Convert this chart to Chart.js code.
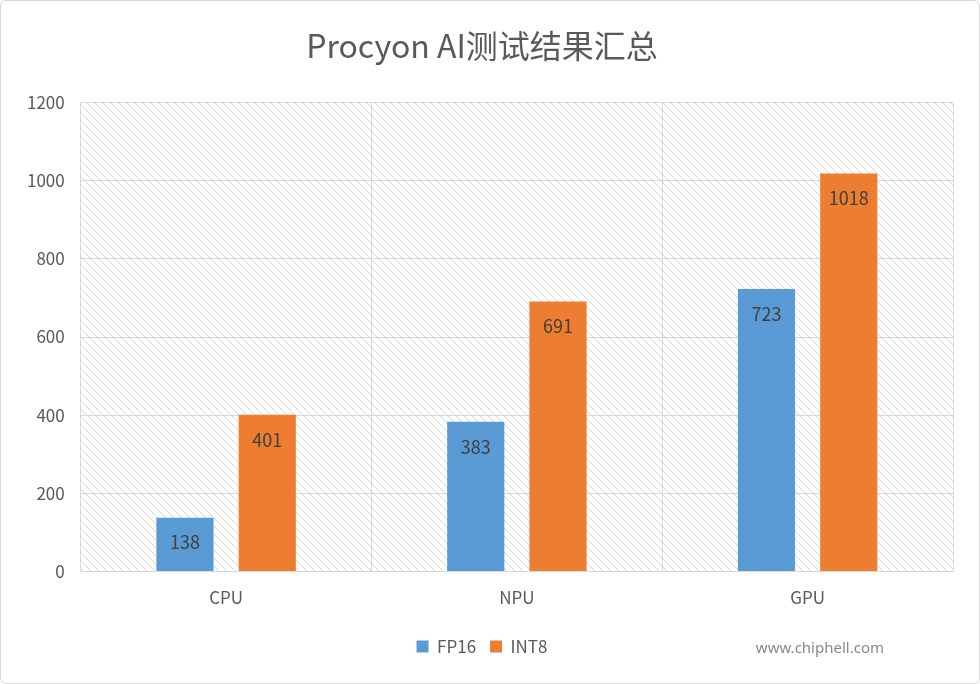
<!DOCTYPE html>
<html lang="zh">
<head>
<meta charset="UTF-8">
<title>Procyon AI测试结果汇总</title>
<script src="https://cdn.jsdelivr.net/npm/chart.js"></script>
<style>
  body { margin: 0; background: #fff; }
  #wrap { position: relative; width: 978px; height: 682px; border: 1px solid #d9d9d9; border-radius: 6px; }
  #mark { position: absolute; right: 95px; bottom: 26px; font: 15px 'Noto Sans', sans-serif; color: #888; }
</style>
</head>
<body>
<div id="wrap">
  <canvas id="chart" width="978" height="682"></canvas>
  <div id="mark">www.chiphell.com</div>
</div>
<script>
const categories = ['CPU', 'NPU', 'GPU'];
const fp16 = [138, 383, 723];
const int8 = [401, 691, 1018];
const yTicks = [0, 200, 400, 600, 800, 1000, 1200];

const FONT = "'Noto Sans CJK SC', 'Noto Sans', sans-serif";

// diagonal hatch for the plot background
function makeHatch(ctx) {
    const c = document.createElement('canvas');
    c.width = 8; c.height = 8;
    const p = c.getContext('2d');
    p.strokeStyle = '#d4d4d4';
    p.lineWidth = 1;
    p.beginPath();
    p.moveTo(0, 0); p.lineTo(8, 8);
    p.moveTo(-4, 4); p.lineTo(4, 12);
    p.moveTo(4, -4); p.lineTo(12, 4);
    p.stroke();
    return ctx.createPattern(c, 'repeat');
}

const hatchPlugin = {
    id: 'hatch',
    beforeDraw(chart) {
        const { ctx, chartArea: a } = chart;
        ctx.save();
        ctx.fillStyle = makeHatch(ctx);
        ctx.fillRect(a.left, a.top, a.right - a.left, a.bottom - a.top);
        ctx.restore();
    }
};

const labelPlugin = {
    id: 'labels',
    afterDatasetsDraw(chart) {
        const { ctx } = chart;
        ctx.save();
        ctx.font = '18px ' + FONT;
        ctx.fillStyle = '#404040';
        ctx.textAlign = 'center';
        ctx.textBaseline = 'middle';
        chart.data.datasets.forEach((ds, i) => {
            chart.getDatasetMeta(i).data.forEach((bar, j) => {
                ctx.fillText(ds.data[j], bar.x, bar.y + 25);
            });
        });
        ctx.restore();
    }
};

new Chart(document.getElementById('chart'), {
    type: 'bar',
    data: {
        labels: categories,
        datasets: [
            { label: 'FP16', data: fp16, backgroundColor: '#5b9bd5' },
            { label: 'INT8', data: int8, backgroundColor: '#ed7d31' }
        ]
    },
    options: {
        responsive: false,
        animation: false,
        categoryPercentage: 0.566,
        barPercentage: 0.695,
        layout: { padding: { left: 10, right: 26, top: 0, bottom: 18 } },
        plugins: {
            title: {
                display: true,
                text: 'Procyon AI测试结果汇总',
                color: '#595959',
                font: { family: FONT, size: 32, weight: 'normal' },
                padding: { top: 26, bottom: 37 }
            },
            legend: {
                position: 'bottom',
                labels: { color: '#595959', font: { family: FONT, size: 17 }, boxWidth: 12, boxHeight: 12, padding: 14 }
            },
            tooltip: { enabled: false }
        },
        scales: {
            x: {
                grid: { color: '#d9d9d9', offset: true, drawTicks: false },
                border: { color: '#d9d9d9' },
                ticks: { color: '#595959', font: { family: FONT, size: 17 }, padding: 16 }
            },
            y: {
                min: 0, max: 1200,
                afterBuildTicks(axis) { axis.ticks = yTicks.map(v => ({ value: v })); },
                grid: { color: '#d9d9d9', drawTicks: false },
                border: { display: false },
                ticks: { color: '#595959', font: { family: FONT, size: 17 }, padding: 16, callback: v => String(v) }
            }
        }
    },
    plugins: [hatchPlugin, labelPlugin]
});
</script>
</body>
</html>
